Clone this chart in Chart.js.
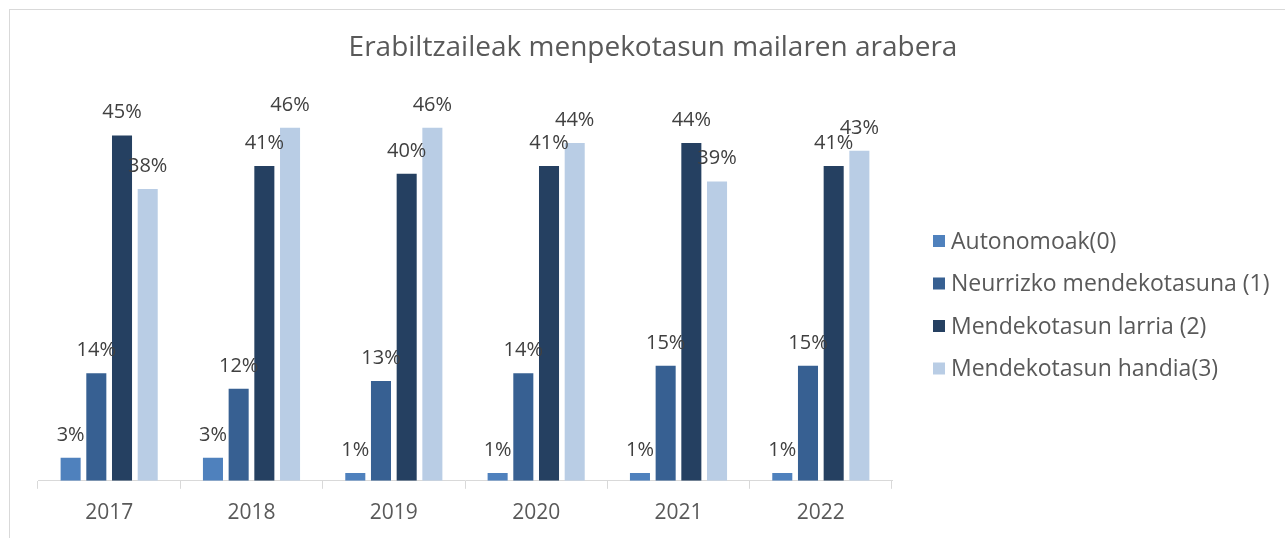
<!DOCTYPE html>
<html>
<head>
<meta charset="utf-8">
<script src="https://cdn.jsdelivr.net/npm/chart.js@4.4.0/dist/chart.umd.min.js"></script>
<style>
  html, body { margin: 0; padding: 0; background: #fff; }
  #wrap { width: 1285px; height: 538px; position: relative; }
</style>
</head>
<body>
<div id="wrap"><canvas id="chart" width="1285" height="538"></canvas></div>
<script>
// urteak eta serieak (ehunekoak)
const years = ["2017", "2018", "2019", "2020", "2021", "2022"];
const seriesNames = ["Autonomoak(0)", "Neurrizko mendekotasuna (1)", "Mendekotasun larria (2)", "Mendekotasun handia(3)"];
const autonomoak = [3, 3, 1, 1, 1, 1];
const neurrizko = [14, 12, 13, 14, 15, 15];
const larria = [45, 41, 40, 41, 44, 41];
const handia = [38, 46, 46, 44, 39, 43];
const colors = ["#4f81bd", "#376092", "#254061", "#b9cde5"];
const chartTitle = "Erabiltzaileak menpekotasun mailaren arabera";

const FONT = "'Open Sans', 'DejaVu Sans', sans-serif";

// marko grisa + izenburua (irudi osoaren erdian)
const framePlugin = {
    id: "frame",
    beforeDraw(chart) {
        const ctx = chart.ctx;
        ctx.save();
        ctx.strokeStyle = "#d9d9d9";
        ctx.lineWidth = 1;
        ctx.strokeRect(9.5, 9.5, chart.width + 20, chart.height + 20);
        ctx.font = "28px " + FONT;
        ctx.fillStyle = "#595959";
        ctx.textAlign = "center";
        ctx.textBaseline = "middle";
        ctx.fillText(chartTitle, 653, 48);
        ctx.restore();
    }
};

// balioak barren gainean
const labelPlugin = {
    id: "barLabels",
    afterDatasetsDraw(chart) {
        const ctx = chart.ctx;
        ctx.save();
        ctx.font = "20px " + FONT;
        ctx.fillStyle = "#404040";
        ctx.textAlign = "center";
        ctx.textBaseline = "alphabetic";
        chart.data.datasets.forEach((ds, i) => {
            const meta = chart.getDatasetMeta(i);
            meta.data.forEach((bar, j) => {
                ctx.fillText(ds.data[j] + "%", bar.x, bar.y - 17);
            });
        });
        ctx.restore();
    }
};

// legenda eskuinean
const legendPlugin = {
    id: "sideLegend",
    afterDraw(chart) {
        const ctx = chart.ctx;
        ctx.save();
        ctx.font = "23px " + FONT;
        ctx.textBaseline = "middle";
        chart.data.datasets.forEach((ds, i) => {
            const y = 241 + i * 42.5;
            ctx.fillStyle = ds.backgroundColor;
            ctx.fillRect(933, y - 6, 12, 12);
            ctx.fillStyle = "#595959";
            ctx.fillText(ds.label, 951, y + 1);
        });
        ctx.restore();
    }
};

const values = [autonomoak, neurrizko, larria, handia];

new Chart(document.getElementById("chart"), {
    type: "bar",
    data: {
        labels: years,
        datasets: values.map((v, i) => ({
            label: seriesNames[i],
            data: v,
            backgroundColor: colors[i],
            borderWidth: 0,
            categoryPercentage: 0.722,
            barPercentage: 0.78,
        }))
    },
    options: {
        responsive: false,
        animation: false,
        layout: { padding: { left: 38, right: 393, top: 97, bottom: 0 } },
        plugins: {
            legend: { display: false },
            tooltip: { enabled: false },
            title: { display: false }
        },
        scales: {
            y: {
                display: false,
                min: 0,
                max: 50
            },
            x: {
                grid: {
                    display: true,
                    drawOnChartArea: false,
                    drawTicks: true,
                    tickLength: 8,
                    color: "#d9d9d9"
                },
                border: { color: "#d9d9d9" },
                ticks: {
                    color: "#595959",
                    font: { family: FONT, size: 21 },
                    padding: 12
                }
            }
        }
    },
    plugins: [framePlugin, labelPlugin, legendPlugin]
});
</script>
</body>
</html>
